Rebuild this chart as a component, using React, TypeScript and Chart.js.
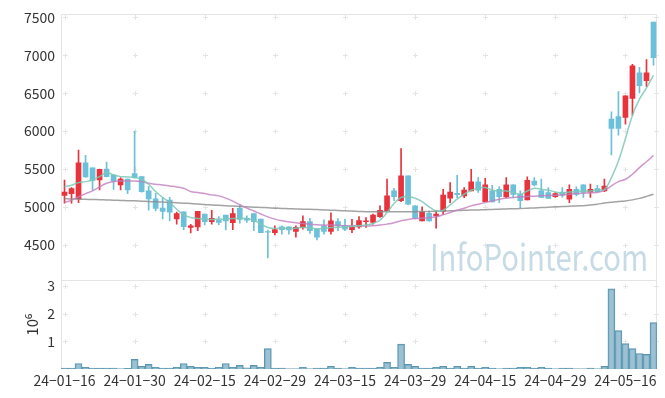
import React, { useEffect, useRef } from 'react';
import { Chart, registerables } from 'chart.js';

Chart.register(...registerables);

const dates = [
  '24-01-16','24-01-17','24-01-18','24-01-19','24-01-22','24-01-23','24-01-24','24-01-25','24-01-26','24-01-29',
  '24-01-30','24-01-31','24-02-01','24-02-02','24-02-05','24-02-06','24-02-07','24-02-08','24-02-13','24-02-14',
  '24-02-15','24-02-16','24-02-19','24-02-20','24-02-21','24-02-22','24-02-23','24-02-26','24-02-27','24-02-28',
  '24-02-29','24-03-04','24-03-05','24-03-06','24-03-07','24-03-08','24-03-11','24-03-12','24-03-13','24-03-14',
  '24-03-15','24-03-18','24-03-19','24-03-20','24-03-21','24-03-22','24-03-25','24-03-26','24-03-27','24-03-28',
  '24-03-29','24-04-01','24-04-02','24-04-03','24-04-04','24-04-05','24-04-08','24-04-09','24-04-11','24-04-12',
  '24-04-15','24-04-16','24-04-17','24-04-18','24-04-19','24-04-22','24-04-23','24-04-24','24-04-25','24-04-26',
  '24-04-29','24-04-30','24-05-02','24-05-03','24-05-07','24-05-08','24-05-09','24-05-10','24-05-13','24-05-14',
  '24-05-16','24-05-17','24-05-20','24-05-21','24-05-22',
];

const openP = [
  5150,5175,5105,5580,5515,5355,5500,5420,5290,5365,
  5440,5400,5210,5105,4985,5090,4840,4935,4730,4735,
  4905,4805,4825,4890,4790,4980,4850,4910,4840,4675,
  4660,4735,4735,4675,4730,4805,4705,4750,4675,4805,
  4755,4700,4735,4805,4795,4870,4945,5210,5080,5410,
  5015,4815,4915,4880,4940,5115,5180,5145,5210,5330,
  5070,5210,5230,5130,5290,5165,5090,5340,5210,5190,
  5135,5195,5100,5230,5290,5195,5240,5210,6160,6190,
  6180,6430,6770,6665,7440,
];
const highP = [
  5355,5255,5750,5680,5515,5500,5590,5430,5385,5365,
  6000,5400,5270,5180,5125,5125,4930,4935,4770,4940,
  4905,4955,4870,4890,4980,5025,4880,4910,4840,4695,
  4750,4750,4735,4750,4880,4850,4705,4830,4920,4845,
  4840,4835,4870,4860,4905,5015,5365,5245,5770,5410,
  5015,5000,4945,4955,5230,5320,5415,5255,5495,5385,
  5375,5285,5265,5385,5290,5210,5395,5385,5365,5255,
  5190,5255,5290,5265,5290,5300,5285,5365,6255,6520,
  6465,6880,6840,6945,7440,
];
const lowP = [
  5050,5050,5055,5390,5220,5225,5395,5230,5225,5175,
  5380,5195,4955,4945,4840,4815,4770,4700,4655,4685,
  4760,4770,4765,4695,4700,4785,4795,4685,4660,4325,
  4630,4640,4640,4600,4705,4650,4565,4640,4640,4685,
  4685,4660,4715,4730,4770,4860,4945,5080,5070,5025,
  4840,4815,4810,4720,4905,5055,5120,5120,5210,5190,
  5070,5065,5055,5120,5125,4990,5090,5275,5125,5110,
  5125,5125,5055,5145,5125,5125,5200,5200,5685,5945,
  6090,6210,6505,6585,6870,
];
const closeP = [
  5195,5240,5580,5395,5350,5495,5400,5340,5365,5225,
  5385,5200,5105,4980,4940,4930,4910,4740,4750,4940,
  4805,4850,4795,4815,4910,4835,4825,4805,4660,4665,
  4700,4700,4695,4730,4805,4685,4600,4675,4815,4750,
  4705,4740,4820,4815,4890,4955,5145,5135,5410,5035,
  4850,4935,4815,4905,5155,5195,5160,5220,5330,5220,
  5290,5065,5135,5290,5165,5080,5350,5290,5125,5110,
  5175,5155,5230,5165,5190,5230,5200,5275,6035,6035,
  6465,6860,6600,6770,6970,
];

// volume in millions of shares
const volume = [
  0.03,0.03,0.20,0.06,0.03,0.03,0.03,0.03,0.01,0.02,
  0.35,0.10,0.17,0.06,0.03,0.03,0.06,0.20,0.10,0.06,
  0.06,0.03,0.06,0.20,0.06,0.13,0.04,0.13,0.06,0.74,
  0.03,0.03,0.005,0.005,0.06,0.005,0.03,0.03,0.10,0.03,
  0.005,0.06,0.03,0.03,0.03,0.06,0.24,0.06,0.90,0.17,
  0.10,0.03,0.03,0.06,0.10,0.03,0.10,0.03,0.10,0.03,
  0.06,0.03,0.005,0.03,0.03,0.06,0.06,0.03,0.06,0.03,
  0.005,0.03,0.03,0.005,0.005,0.03,0.005,0.10,2.90,1.39,
  0.92,0.74,0.56,0.53,1.68,
];

const ma5 = [
  5263,5285,5320,5333,5355,5399,5452,5421,5399,5395,
  5386,5364,5298,5202,5123,5057,4969,4895,4860,4846,
  4838,4833,4838,4838,4846,4851,4846,4825,4772,4728,
  4715,4719,4715,4719,4732,4719,4711,4715,4728,4728,
  4737,4741,4750,4759,4781,4825,4925,5044,5123,5136,
  5114,5070,5000,4947,4956,5026,5101,5167,5219,5246,
  5254,5219,5210,5210,5189,5167,5210,5246,5232,5219,
  5197,5180,5197,5202,5210,5210,5224,5228,5386,5605,
  5900,6210,6421,6570,6737,
];
const ma20 = [
  5057,5088,5132,5175,5210,5263,5311,5333,5342,5342,
  5342,5333,5311,5298,5290,5276,5263,5246,5202,5190,
  5175,5158,5145,5115,5075,5030,4985,4945,4905,4868,
  4838,4816,4803,4790,4781,4770,4763,4759,4759,4754,
  4750,4750,4750,4746,4750,4759,4772,4790,4816,4833,
  4846,4851,4855,4868,4895,4925,4956,4982,5013,5035,
  5057,5079,5101,5114,5123,5132,5136,5141,5145,5149,
  5154,5158,5167,5175,5180,5184,5189,5220,5276,5333,
  5364,5430,5518,5596,5680,
];
const ma60 = [
  5110,5105,5102,5100,5097,5094,5091,5088,5085,5082,
  5079,5075,5071,5067,5063,5058,5054,5049,5044,5039,
  5030,5025,5020,5015,5010,5005,5000,4996,4992,4988,
  4983,4979,4976,4973,4970,4967,4964,4960,4956,4952,
  4948,4944,4940,4937,4935,4934,4934,4935,4936,4936,
  4936,4938,4940,4942,4945,4948,4951,4954,4957,4960,
  4963,4966,4969,4972,4975,4978,4982,4986,4990,4995,
  5000,5004,5008,5012,5016,5025,5035,5050,5060,5070,
  5078,5092,5112,5138,5167,
];

const priceTicks = [4500, 5000, 5500, 6000, 6500, 7000, 7500];
const volumeTicks = [1, 2, 3];
const xTickStep = 10;

const UP = '#e8323c';
const DOWN = '#6cc0d9';
const FONT = "'Noto Sans CJK KR', 'Noto Sans', sans-serif";
const TEXT = '#333333';

const framePlugin = {
  id: 'frame',
  beforeDatasetsDraw(chart: any) {
    const { ctx, chartArea } = chart;
    const xs = chart.scales.x;
    const y = chart.scales.y;
    const yv = chart.scales.yv;
    ctx.save();
    ctx.strokeStyle = '#e4e4e4';
    ctx.lineWidth = 1;
    const xPix: number[] = [];
    for (let i = 0; i < dates.length; i += xTickStep) xPix.push(Math.round(xs.getPixelForValue(i)) + 0.5);
    xPix.push(Math.round(chartArea.right) - 0.5);
    const yPix: number[] = [];
    priceTicks.forEach((v) => yPix.push(Math.round(y.getPixelForValue(v)) + 0.5));
    volumeTicks.forEach((v) => yPix.push(Math.round(yv.getPixelForValue(v)) + 0.5));
    ctx.beginPath();
    xPix.forEach((px) => {
      yPix.forEach((py) => {
        ctx.moveTo(px - 2.5, py);
        ctx.lineTo(px + 2.5, py);
        ctx.moveTo(px, py - 2.5);
        ctx.lineTo(px, py + 2.5);
      });
    });
    ctx.stroke();
    // frame lines
    ctx.beginPath();
    const l = Math.round(chartArea.left) + 0.5;
    const r = Math.round(chartArea.right) - 0.5;
    const t = Math.round(chartArea.top) + 0.5;
    const b = Math.round(chartArea.bottom) - 0.5;
    const sep = Math.round(y.bottom) + 0.5;
    ctx.moveTo(l, t); ctx.lineTo(r, t);
    ctx.moveTo(r, t); ctx.lineTo(r, b);
    ctx.moveTo(l, b); ctx.lineTo(r, b);
    ctx.moveTo(l, sep); ctx.lineTo(r, sep);
    ctx.moveTo(l, t); ctx.lineTo(l, b);
    ctx.stroke();
    // watermark
    const text = 'InfoPointer.com';
    ctx.fillStyle = 'rgba(160,195,213,0.6)';
    ctx.font = `37px ${FONT}`;
    ctx.textAlign = 'left';
    ctx.textBaseline = 'alphabetic';
    const w = ctx.measureText(text).width;
    const sx = 218 / w;
    ctx.translate(430, Math.round(y.bottom) - 9);
    ctx.scale(sx, 1);
    ctx.fillText(text, 0, 0);
    ctx.restore();
  },
};

export default function App() {
  const ref = useRef<HTMLCanvasElement>(null);
  useEffect(() => {
    document.body.style.margin = '0';
    const colors = closeP.map((c, i) => (c >= openP[i] ? UP : DOWN));
    const chart = new Chart(ref.current as HTMLCanvasElement, {
      type: 'bar',
      data: {
        labels: dates,
        datasets: [
          { type: 'line', label: 'MA5', data: ma5, yAxisID: 'y', borderColor: 'rgba(125,200,182,0.85)', borderWidth: 1.5, pointRadius: 0, tension: 0.4, order: 0 } as any,
          { type: 'line', label: 'MA20', data: ma20, yAxisID: 'y', borderColor: 'rgba(195,125,190,0.8)', borderWidth: 1.5, pointRadius: 0, tension: 0.4, order: 0 } as any,
          { type: 'line', label: 'MA60', data: ma60, yAxisID: 'y', borderColor: 'rgba(140,140,140,0.8)', borderWidth: 1.5, pointRadius: 0, tension: 0.4, order: 0 } as any,
          { label: 'body', data: openP.map((o, i) => [o, closeP[i]]), yAxisID: 'y', backgroundColor: colors, barThickness: 5, grouped: false, order: 1 } as any,
          { label: 'wick', data: lowP.map((l, i) => [l, highP[i]]), yAxisID: 'y', backgroundColor: colors, barThickness: 1, grouped: false, order: 2 } as any,
          { label: 'volume', data: volume, yAxisID: 'yv', backgroundColor: 'rgba(130,178,200,0.8)', borderColor: '#5a95b0', borderWidth: 1, barPercentage: 1, categoryPercentage: 1, grouped: false, order: 3 } as any,
        ],
      },
      options: {
        responsive: false,
        animation: false,
        events: [],
        layout: { padding: { top: 12, right: 8, left: 0, bottom: 0 } },
        plugins: { legend: { display: false }, tooltip: { enabled: false } },
        scales: {
          x: {
            type: 'category',
            offset: true,
            grid: { display: false, drawTicks: false },
            border: { display: false },
            ticks: {
              autoSkip: false,
              maxRotation: 0,
              padding: 3,
              color: TEXT,
              font: { size: 14, family: FONT },
              callback: (_v: any, i: number) => (i % xTickStep === 0 ? dates[i].replace(/-/g, '\u2212') : ''),
            },
            afterFit: (s: any) => { s.height = 29; },
          },
          yv: {
            position: 'left',
            stack: 'panes',
            stackWeight: 1,
            min: 0,
            max: 3.21,
            grid: { display: false, drawTicks: false },
            border: { display: false },
            title: { display: true, text: '10⁶', color: TEXT, font: { size: 15, family: FONT }, padding: { top: 23, bottom: 0 } },
            ticks: { color: TEXT, padding: 6, font: { size: 14, family: FONT }, callback: (v: any) => String(v) },
            afterBuildTicks: (s: any) => { s.ticks = volumeTicks.map((v) => ({ value: v })); },
            afterFit: (s: any) => { s.width = 61; },
          },
          y: {
            position: 'left',
            stack: 'panes',
            stackWeight: 3,
            min: 4030,
            max: 7540,
            grid: { display: false, drawTicks: false },
            border: { display: false },
            ticks: { color: TEXT, padding: 6, font: { size: 14, family: FONT }, callback: (v: any) => String(v) },
            afterBuildTicks: (s: any) => { s.ticks = priceTicks.map((v) => ({ value: v })); },
            afterFit: (s: any) => { s.width = 61; },
          },
        },
      },
      plugins: [framePlugin],
    });
    return () => chart.destroy();
  }, []);
  return (
    <div style={{ width: 665, height: 398 }}>
      <canvas ref={ref} width={665} height={398} style={{ display: 'block' }} />
    </div>
  );
}
